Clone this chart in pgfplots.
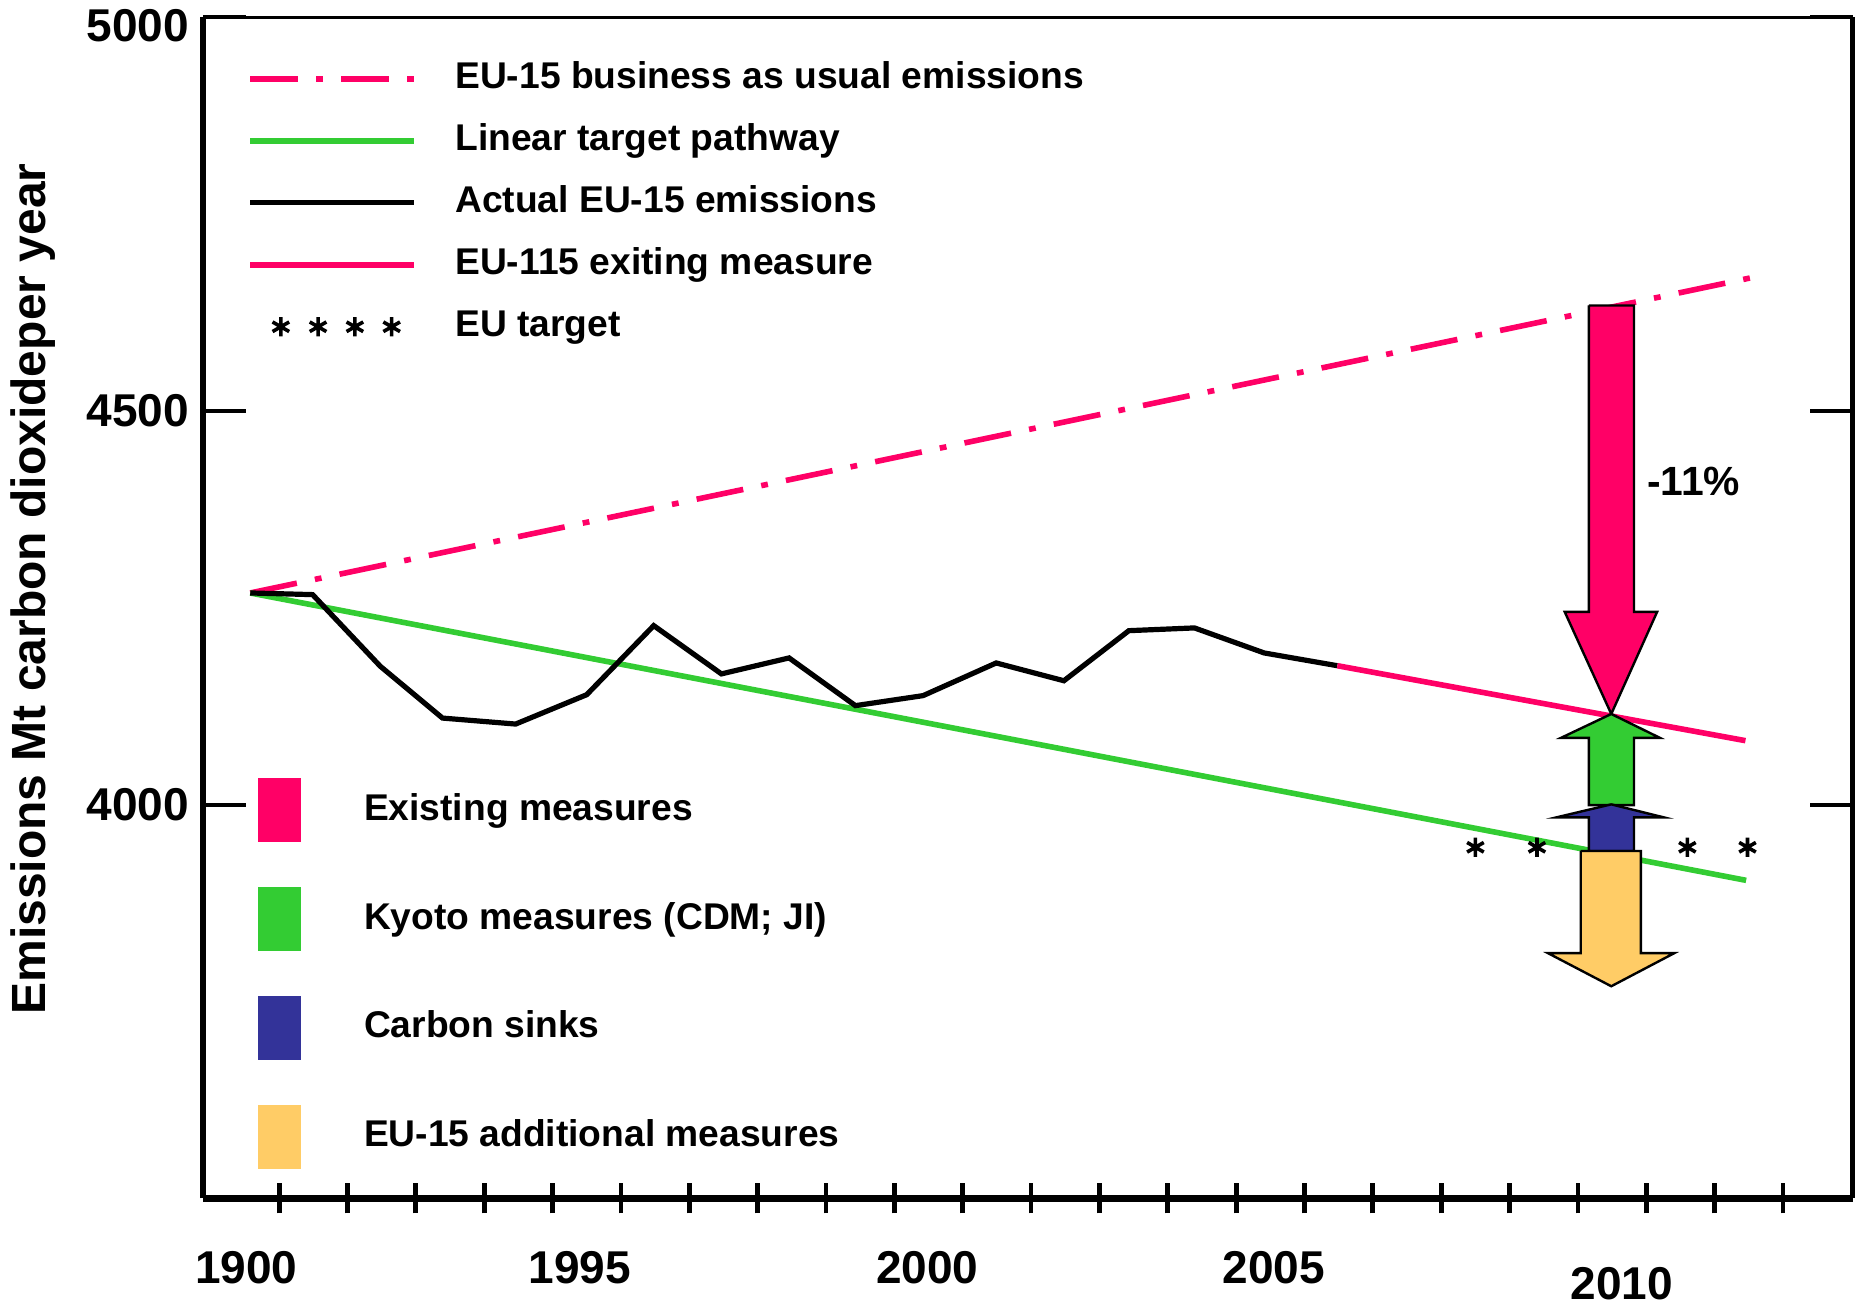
\documentclass[border=0pt]{standalone}
\usepackage{fontspec}
\setmainfont{Liberation Sans}
\usepackage{pgfplots}
\pgfplotsset{compat=1.18}
\definecolor{cpink}{HTML}{FF0066}
\definecolor{cgreen}{HTML}{33CC33}
\definecolor{cblue}{HTML}{333399}
\definecolor{corange}{HTML}{FFCC66}
\begin{document}
\begin{tikzpicture}
\begin{axis}[
  at={(0,0)}, anchor=south west,
  scale only axis, width=412.3pt, height=295.2pt,
  xmin=1988.89, xmax=2013.02, ymin=3500, ymax=5000,
  clip=false,
  axis line style={draw=none},
  xtick={1989.52,1994.40,1999.48,2004.55},
  xticklabels={1900,1995,2000,2005},
  extra x ticks={2009.64}, extra x tick labels={2010},
  extra x tick style={xticklabel style={yshift=-3.9pt}},
  major x tick style={draw=none},
  minor xtick={1990,1991,...,2012},
  minor tick length=7.5pt,
  minor x tick style={yshift=-3.75pt, line width=1.2pt, black},
  xtick pos=bottom,
  ytick={4000,4500}, yticklabels={4000,4500},
  extra y ticks={5000}, extra y tick labels={5000},
  extra y tick style={yticklabel style={yshift=-2pt}},
  major tick length=10.7pt,
  major y tick style={line width=1pt, black},
  tick label style={font=\fontsize{11.5}{13}\selectfont\bfseries},
  xticklabel style={yshift=-9.7pt},
  ylabel={Emissions Mt carbon dioxideper year},
  ylabel style={font=\fontsize{12}{14}\selectfont\bfseries, at={(axis description cs:-0.103,0.516)}, anchor=center},
  legend style={draw=none, fill=none, at={(axis description cs:0.0262,0.9640)}, anchor=north west,
    inner sep=0pt, row sep=6.5pt, column sep=9.6pt,
    font=\fontsize{9.3}{11}\selectfont\bfseries,
    nodes={inner sep=0pt, text height=7pt, text depth=2pt}},
  legend cell align=left,
  legend image code/.code={\draw[#1] (0pt,0pt) -- (41pt,0pt);},
]
\addplot[cpink, line width=1.4pt, dash pattern=on 11.9pt off 4.6pt on 1.7pt off 4.6pt]
  coordinates {(1989.578,4269) (2011.68,4672)};
\addlegendentry{EU-15 business as usual emissions}
\addplot[cgreen, line width=1.4pt]
  coordinates {(1989.578,4269) (2011.46,3904)};
\addlegendentry{Linear target pathway}
\addplot[black, line width=1.3pt]
  coordinates {(1989.578,4269.0) (1990.49,4266.9) (1991.48,4175.9) (1992.39,4110.1) (1993.46,4102.5)
   (1994.50,4139.8) (1995.48,4227.5) (1996.47,4166.2) (1997.46,4186.5) (1998.43,4125.9)
   (1999.42,4138.6) (2000.49,4180.1) (2001.48,4157.5) (2002.43,4221.1) (2003.39,4224.6)
   (2004.41,4192.8) (2005.48,4176.6)};
\addlegendentry{Actual EU-15 emissions}
\addplot[cpink, line width=1.4pt]
  coordinates {(2005.48,4176.6) (2011.45,4081.4)};
\addlegendentry{EU-115 exiting measure}
\addplot[black, only marks, mark=asterisk, mark size=2.4pt, line width=0.9pt,
  legend image code/.code={\foreach \xx in {7.7,17,26.2,35.4}{\draw[black, line width=0.9pt] plot[mark=asterisk, mark size=2.4pt, only marks] coordinates {(\xx pt,0pt)};}}]
  coordinates {(2007.50,3946) (2008.40,3946) (2010.60,3946) (2011.48,3946)};
\addlegendentry{EU target}
% arrows
\addplot[fill=cpink, draw=black, line width=0.6pt, forget plot]
  coordinates {(2009.16,4634.1) (2009.82,4634.1) (2009.82,4245) (2010.158,4245) (2009.487,4115.3)
   (2008.806,4245) (2009.16,4245) (2009.16,4634.1)};
\addplot[fill=cgreen, draw=black, line width=0.6pt, forget plot]
  coordinates {(2009.487,4115.3) (2010.20,4084.9) (2009.82,4084.9) (2009.82,3999.6) (2009.16,3999.6)
   (2009.16,4084.9) (2008.75,4084.9) (2009.487,4115.3)};
\addplot[fill=cblue, draw=black, line width=0.6pt, forget plot]
  coordinates {(2009.487,4000.5) (2010.26,3983.9) (2009.82,3983.9) (2009.82,3941.3) (2009.16,3941.3)
   (2009.16,3983.9) (2008.68,3983.9) (2009.487,4000.5)};
\addplot[fill=corange, draw=black, line width=0.6pt, forget plot]
  coordinates {(2009.04,3941.3) (2009.92,3941.3) (2009.92,3811.6) (2010.41,3811.6) (2009.487,3769.5)
   (2008.56,3811.6) (2009.04,3811.6) (2009.04,3941.3)};
\node[anchor=west, inner sep=0pt, font=\fontsize{10.2}{12}\selectfont\bfseries] at (axis cs:2010.0,4411) {-11\%};
% frame
\draw[line width=0.6pt] (rel axis cs:0,1) -- (rel axis cs:1,1);
\draw[line width=1.4pt] (rel axis cs:0,0) -- (rel axis cs:0,1);
\draw[line width=1.2pt] (rel axis cs:1,0) -- (rel axis cs:1,1);
\draw[line width=1.8pt] (rel axis cs:0,0) -- (rel axis cs:1,0);
\end{axis}
\begin{axis}[
  at={(0,0)}, anchor=south west,
  scale only axis, width=412.3pt, height=295.2pt,
  hide axis, xmin=0, xmax=1, ymin=0, ymax=1,
  legend style={draw=none, fill=none, at={(axis description cs:0.0327,0.0245)}, anchor=south west,
    inner sep=0pt, row sep=11.2pt, column sep=15.8pt,
    font=\fontsize{9.3}{11}\selectfont\bfseries,
    nodes={inner sep=0pt, text height=7pt, text depth=2pt}},
  legend cell align=left,
  legend image code/.code={\fill[#1] (0pt,-8pt) rectangle (10.7pt,8pt);},
]
\addlegendimage{fill=cpink, draw=none}
\addlegendentry{Existing measures}
\addlegendimage{fill=cgreen, draw=none}
\addlegendentry{Kyoto measures (CDM; JI)}
\addlegendimage{fill=cblue, draw=none}
\addlegendentry{Carbon sinks}
\addlegendimage{fill=corange, draw=none}
\addlegendentry{EU-15 additional measures}
\end{axis}
\pgfresetboundingbox
\useasboundingbox (-50.8pt,-27.1pt) rectangle (416.1pt,299.55pt);
\end{tikzpicture}
\end{document}
